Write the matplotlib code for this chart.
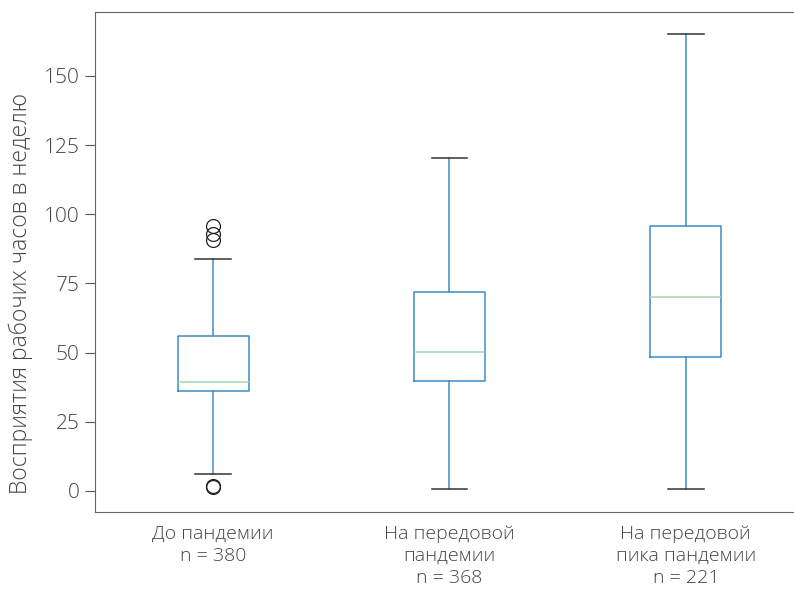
import matplotlib.pyplot as plt

# Weekly working hours, summary statistics per group
groups = ["До пандемии\nn = 380",
          "На передовой\nпандемии\nn = 368",
          "На передовой\nпика пандемии\nn = 221"]
whislo = [6.1, 0.7, 0.7]
q1 = [36.1, 39.8, 48.4]
med = [39.4, 50.2, 70.1]
q3 = [56.0, 71.9, 95.8]
whishi = [83.8, 120.3, 165.2]
fliers = [[95.8, 92.9, 90.7, 1.8, 1.4], [], []]
yticks = [0, 25, 50, 75, 100, 125, 150]


def build_stats():
    stats = []
    for i in range(len(groups)):
        stats.append(dict(label=groups[i], whislo=whislo[i], q1=q1[i],
                          med=med[i], q3=q3[i], whishi=whishi[i],
                          fliers=fliers[i]))
    return stats


def show_boxplot():
    plt.rcParams['font.family'] = ['Open Sans', 'DejaVu Sans']
    fig = plt.figure(figsize=(7.94, 5.90), dpi=100)
    ax = fig.add_axes([0.1196, 0.1322, 0.893, 0.8475])

    ax.bxp(build_stats(), positions=[1, 2, 3], widths=0.3,
           boxprops=dict(color="#3f8ac4", linewidth=1.1),
           whiskerprops=dict(color="#3f8ac4", linewidth=1.1),
           capprops=dict(color="#333333", linewidth=1.1),
           medianprops=dict(color="#9fd6b0", linewidth=1.1),
           flierprops=dict(marker="o", markerfacecolor="none",
                           markeredgecolor="#222222", markersize=10,
                           markeredgewidth=0.9))

    ax.set_xlim(0.5, 3.5)
    ax.set_ylim(-7.6, 173.1)
    ax.set_yticks(yticks)
    ax.set_ylabel("Восприятия рабочих часов в неделю", fontsize=16.5,
                  color="#444444", fontweight="light")
    ax.yaxis.set_label_coords(-0.088, 0.436)
    ax.tick_params(axis="y", length=7, color="#555555", labelsize=15,
                   labelcolor="#444444", pad=4)
    ax.tick_params(axis="x", length=0, labelsize=14,
                   labelcolor="#444444", pad=9)
    for lbl in ax.get_yticklabels():
        lbl.set_fontweight("light")
    for lbl in ax.get_xticklabels():
        lbl.set_fontweight("light")
        lbl.set_linespacing(1.3)
    for side in ["left", "top", "bottom", "right"]:
        ax.spines[side].set_color("#666666")

    fig.savefig("out.png", dpi=100)


if __name__ == "__main__":
    show_boxplot()
